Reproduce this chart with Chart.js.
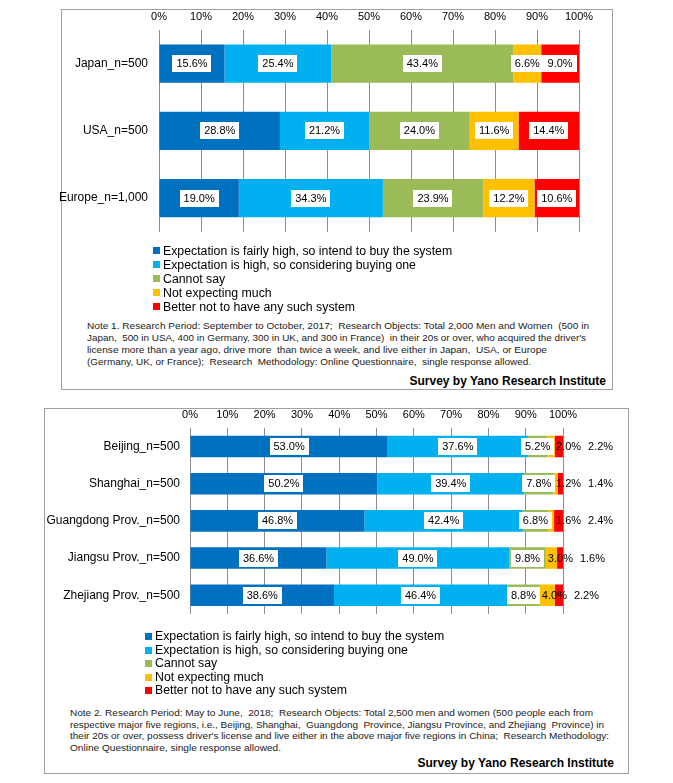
<!DOCTYPE html>
<html>
<head>
<meta charset="utf-8">
<script src="https://cdn.jsdelivr.net/npm/chart.js@4.4.1/dist/chart.umd.min.js"></script>
<style>
  body { margin: 0; background: #fff; font-family: "Liberation Sans", Arial, sans-serif; color: #000; }
  #page { position: relative; width: 673px; height: 783px; }
  .box { position: absolute; border: 1px solid #a0a0a0; box-sizing: border-box; }
  canvas { position: absolute; }
  .legend { position: absolute; font-size: 12.3px; line-height: 14px; white-space: nowrap; }
  .legend div { position: relative; padding-left: 10px; }
  .legend span { position: absolute; left: 0; top: 3px; width: 7px; height: 7px; }
  .note { position: absolute; font-size: 9.5px; line-height: 12px; color: #222; white-space: nowrap; }
  .note div { transform-origin: left center; }
  .sig { position: absolute; font-weight: bold; font-size: 12px; line-height: 14px; white-space: nowrap; }
</style>
</head>
<body>
<div id="page">
  <div class="box" style="left:61px;top:9px;width:552px;height:381px;"></div>
  <div class="box" style="left:44px;top:408px;width:585px;height:366px;"></div>

  <canvas id="topChart" width="570" height="240" style="left:40px;top:10px;"></canvas>
  <canvas id="bottomChart" width="607" height="222" style="left:20px;top:409px;"></canvas>

  <div class="legend" id="topLegend" style="left:153px;top:244px;"></div>
  <div class="legend" id="bottomLegend" style="left:145px;top:630px;line-height:13.6px;"></div>

  <div class="note" style="left:87px;top:320px;">
    <div data-w="502">Note 1. Research Period: September to October, 2017;&nbsp; Research Objects: Total 2,000 Men and Women&nbsp; (500 in</div>
    <div data-w="499">Japan,&nbsp; 500 in USA, 400 in Germany, 300 in UK, and 300 in France)&nbsp; in their 20s or over, who acquired the driver's</div>
    <div data-w="460">license more than a year ago, drive more&nbsp; than twice a week, and live either in Japan,&nbsp; USA, or Europe</div>
    <div data-w="444">(Germany, UK, or France);&nbsp; Research&nbsp; Methodology: Online Questionnaire,&nbsp; single response allowed.</div>
  </div>
  <div class="sig" style="right:67px;top:374px;">Survey by Yano Research Institute</div>

  <div class="note" style="left:70px;top:708px;font-size:9px;line-height:11.5px;">
    <div data-w="523">Note 2. Research Period: May to June,&nbsp; 2018;&nbsp; Research Objects: Total 2,500 men and women (500 people each from</div>
    <div data-w="534">respective major five regions, i.e., Beijing, Shanghai,&nbsp; Guangdong&nbsp; Province, Jiangsu Province, and Zhejiang&nbsp; Province) in</div>
    <div data-w="539">their 20s or over, possess driver's license and live either in the above major five regions in China;&nbsp; Research Methodology:</div>
    <div data-w="211">Online Questionnaire, single response allowed.</div>
  </div>
  <div class="sig" style="right:59px;top:756px;">Survey by Yano Research Institute</div>
</div>

<script>
// series shared by both charts
const seriesLabels = [
  'Expectation is fairly high, so intend to buy the system',
  'Expectation is high, so considering buying one',
  'Cannot say',
  'Not expecting much',
  'Better not to have any such system'
];
const seriesColors = ['#0070C0', '#00B0F0', '#9BBB59', '#FFC000', '#FF0000'];

// top chart: Japan / USA / Europe
const topCategories = ['Japan_n=500', 'USA_n=500', 'Europe_n=1,000'];
const topFairlyHigh = [15.6, 28.8, 19.0];
const topHigh       = [25.4, 21.2, 34.3];
const topCannotSay  = [43.4, 24.0, 23.9];
const topNotMuch    = [6.6, 11.6, 12.2];
const topBetterNot  = [9.0, 14.4, 10.6];

// bottom chart: China regions
const bottomCategories = ['Beijing_n=500', 'Shanghai_n=500', 'Guangdong Prov._n=500', 'Jiangsu Prov._n=500', 'Zhejiang Prov._n=500'];
const bottomFairlyHigh = [53.0, 50.2, 46.8, 36.6, 38.6];
const bottomHigh       = [37.6, 39.4, 42.4, 49.0, 46.4];
const bottomCannotSay  = [5.2, 7.8, 6.8, 9.8, 8.8];
const bottomNotMuch    = [2.0, 1.2, 1.6, 3.0, 4.0];
const bottomBetterNot  = [2.2, 1.4, 2.4, 1.6, 2.2];

// x axis ticks 0%..100%
const tickStep = 10;

const labelFont = '11px "Liberation Sans", Arial, sans-serif';

// percent labels: white boxes in the middle of segments, small ones
// of the bottom chart go to the right of the bar
const valueLabels = {
  id: 'valueLabels',
  afterDatasetsDraw(chart, args, opts) {
    const ctx = chart.ctx;
    ctx.save();
    ctx.font = labelFont;
    ctx.textBaseline = 'middle';
    ctx.textAlign = 'left';
    for (let i = 0; i < chart.data.labels.length; i++) {
      let lastRight = 0;
      chart.data.datasets.forEach((ds, d) => {
        const bar = chart.getDatasetMeta(d).data[i];
        const txt = ds.data[i].toFixed(1) + '%';
        const w = ctx.measureText(txt).width;
        let x, boxed = true;
        if (opts.outside && d >= 3) {
          boxed = false;
          if (d === 3) {
            x = ds.data[i] >= 3 ? bar.base + 2 : chart.chartArea.right - 7;
          } else {
            x = lastRight + 7;
          }
          lastRight = x + w;
        } else {
          x = (bar.x + bar.base) / 2 - w / 2;
        }
        if (boxed) {
          ctx.fillStyle = '#fff';
          ctx.fillRect(Math.round(x - 4), Math.round(bar.y - 8.5), Math.round(w + 8), 17);
        }
        ctx.fillStyle = '#000';
        ctx.fillText(txt, x, bar.y + 0.5);
      });
    }
    ctx.restore();
  }
};

function makeDatasets(values, barPct) {
  return values.map((data, k) => ({
    label: seriesLabels[k],
    data,
    backgroundColor: seriesColors[k],
    borderWidth: 0,
    barPercentage: barPct,
    categoryPercentage: 1
  }));
}

function makeChart(id, categories, values, o) {
  return new Chart(document.getElementById(id), {
    type: 'bar',
    data: { labels: categories, datasets: makeDatasets(values, o.barPct) },
    options: {
      indexAxis: 'y',
      responsive: false,
      animation: false,
      devicePixelRatio: 1,
      layout: { padding: { left: 0, top: 0, right: o.padRight, bottom: o.padBottom } },
      plugins: {
        legend: { display: false },
        tooltip: { enabled: false },
        valueLabels: { outside: o.outside }
      },
      scales: {
        x: {
          position: 'top',
          stacked: true,
          min: 0,
          max: 100,
          ticks: { stepSize: tickStep, callback: v => v + '%', color: '#000', padding: o.tickPad,
                   font: { family: '"Liberation Sans", Arial, sans-serif', size: 11 } },
          grid: { color: '#8c8c8c', drawTicks: false, lineWidth: 1 },
          border: { display: false },
          afterFit: a => { a.height = o.xHeight; }
        },
        y: {
          stacked: true,
          grid: { display: false, drawTicks: false, tickLength: 0 },
          border: { display: false },
          ticks: { color: '#000', padding: o.yPad,
                   font: { family: '"Liberation Sans", Arial, sans-serif', size: 12 } },
          afterFit: a => { a.width = o.yWidth; }
        }
      }
    },
    plugins: [valueLabels]
  });
}

function htmlLegend(chart, el) {
  chart.data.datasets.forEach(ds => {
    const row = document.createElement('div');
    const sq = document.createElement('span');
    sq.style.background = ds.backgroundColor;
    row.appendChild(sq);
    row.appendChild(document.createTextNode(ds.label));
    el.appendChild(row);
  });
}

const topChart = makeChart('topChart', topCategories,
  [topFairlyHigh, topHigh, topCannotSay, topNotMuch, topBetterNot],
  { barPct: 0.57, padRight: 31, padBottom: 4, xHeight: 20, yWidth: 119, yPad: 11, tickPad: 6, outside: false });

const bottomChart = makeChart('bottomChart', bottomCategories,
  [bottomFairlyHigh, bottomHigh, bottomCannotSay, bottomNotMuch, bottomBetterNot],
  { barPct: 0.58, padRight: 64, padBottom: 5, xHeight: 19, yWidth: 170, yPad: 10, tickPad: 6, outside: true });

htmlLegend(topChart, document.getElementById('topLegend'));
htmlLegend(bottomChart, document.getElementById('bottomLegend'));

// squeeze note lines to the widths seen in the picture
document.querySelectorAll('.note div').forEach(line => {
  line.style.display = 'inline-block';
  const w = line.getBoundingClientRect().width;
  line.style.transform = 'scaleX(' + (line.dataset.w / w) + ')';
  line.style.display = 'block';
});
</script>
</body>
</html>
